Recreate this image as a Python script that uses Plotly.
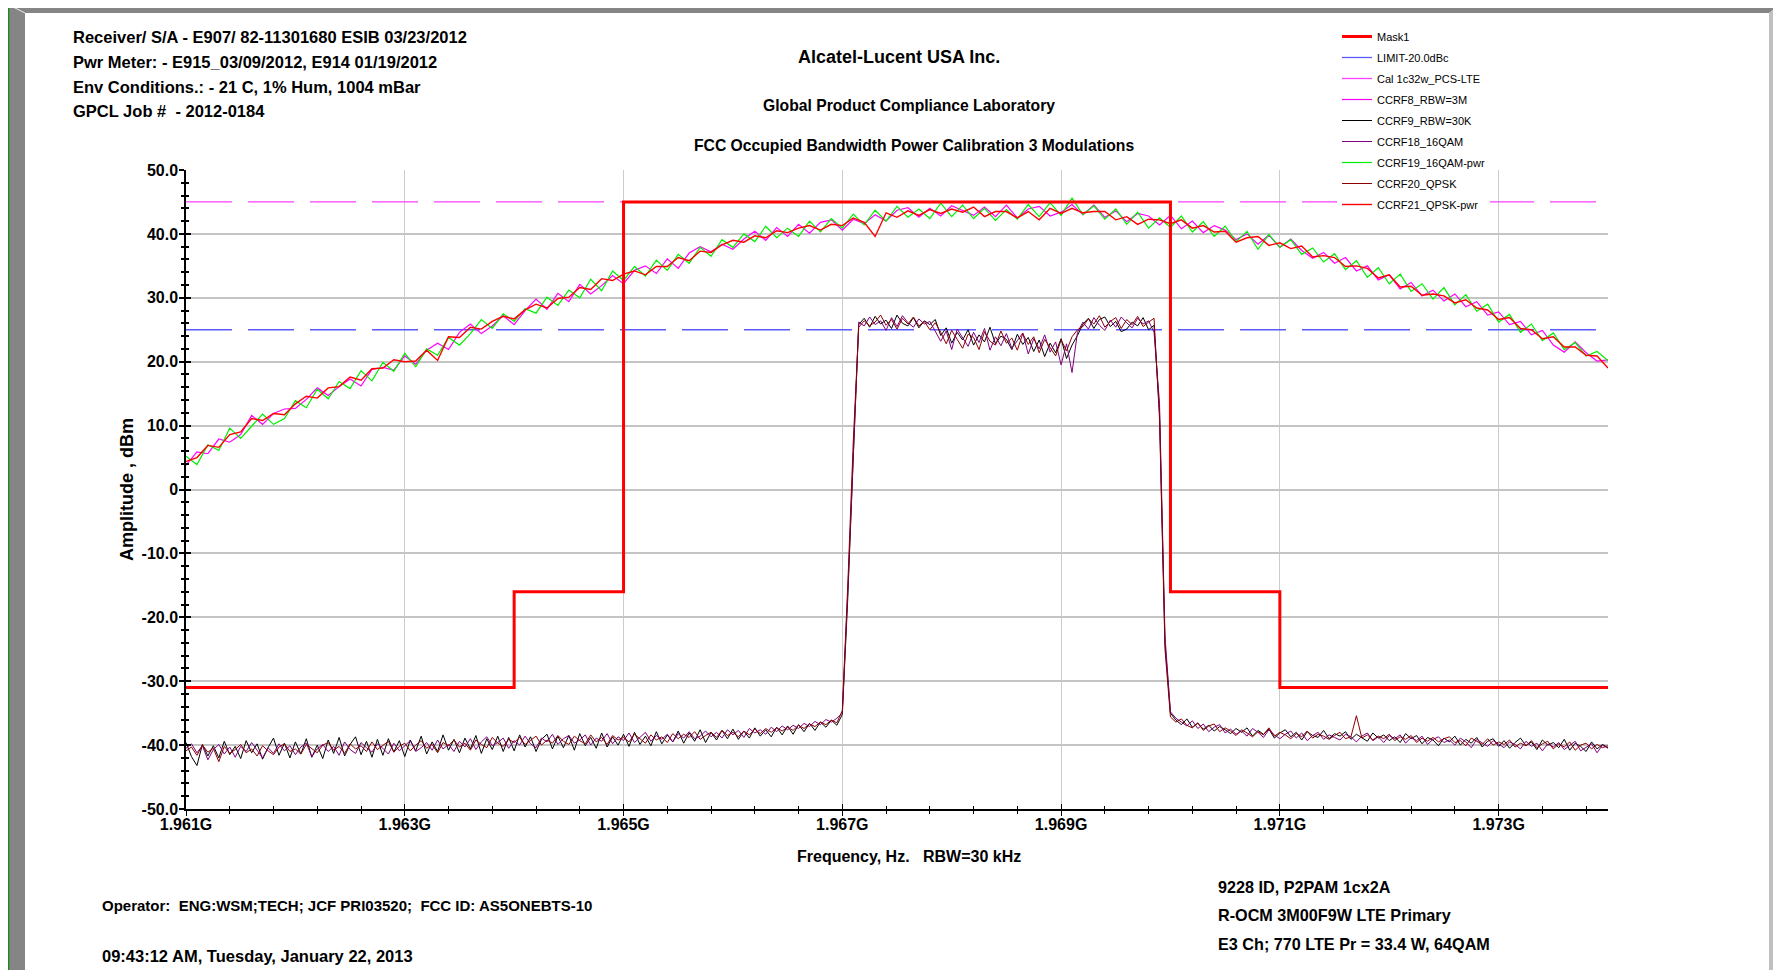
import numpy as np
import plotly.graph_objects as go

# ---------------- data ----------------
START_HZ = 1.961e9
BROAD_STEP_HZ = 0.1e6     # sweep step of the wide-RBW traces
NARROW_STEP_HZ = 0.05e6   # sweep step of the 30 kHz traces

# CCRF8_RBW=3M (magenta)
ccrf8_rbw3m = [
    3.8, 5.9, 5.6, 7.9, 7.4, 8.6, 11.6, 10.2, 11.9, 12.6,
    12.7, 14.1, 15.9, 14.7, 16.1, 17.3, 16.2, 18.8, 19.1, 18.7,
    20.9, 19.6, 21.8, 22.9, 21.9, 24.6, 25.9, 24.4, 25.6, 27.2,
    25.8, 28.0, 29.8, 28.2, 30.7, 29.4, 32.1, 30.6, 31.9, 33.5,
    32.2, 34.3, 35.0, 33.8, 36.1, 34.6, 37.0, 38.0, 37.2, 38.4,
    37.6, 39.2, 40.4, 39.0, 41.0, 39.6, 41.5, 40.1, 41.8, 42.2,
    40.6, 42.3, 41.6, 43.0, 42.0, 43.7, 44.1, 42.6, 44.0, 42.8,
    44.4, 43.7, 42.9, 44.2, 42.7, 44.5, 42.5, 43.9, 44.3, 42.8,
    43.4, 44.6, 43.0, 44.5, 42.6, 43.6, 41.9, 43.2, 42.8, 41.4,
    42.9, 40.8, 42.0, 40.2, 41.3, 40.6, 39.1, 40.0, 38.4, 39.8,
    37.9, 39.2, 37.4, 36.2, 37.1, 35.4, 36.3, 34.2, 35.0, 32.8,
    33.6, 31.4, 32.4, 30.3, 31.2, 29.5, 30.6, 28.6, 29.4, 27.3,
    27.8, 25.8, 26.3, 24.2, 24.9, 22.6, 21.5, 23.1, 21.4, 20.1,
    20.3,
]

# CCRF19_16QAM-pwr (green)
ccrf19_16qam_pwr = [
    5.2, 3.9, 7.0, 6.1, 9.6, 8.0, 9.9, 11.8, 10.2, 11.1,
    13.9, 12.8, 15.7, 14.2, 16.9, 15.8, 18.6, 17.0, 19.9, 18.5,
    21.3, 19.2, 22.0, 21.0, 23.8, 22.6, 24.4, 26.6, 25.2, 27.5,
    26.3, 28.3, 27.6, 30.1, 28.8, 31.2, 30.0, 32.9, 31.1, 34.2,
    32.7, 34.9, 33.4, 35.9, 34.3, 36.8, 35.4, 37.9, 36.5, 39.1,
    37.9, 40.0, 38.8, 41.2, 39.4, 40.9, 39.6, 42.0, 40.3, 42.4,
    40.9, 43.1, 41.4, 43.7, 42.0, 44.3, 42.6, 43.9, 42.4, 44.8,
    42.7, 44.5, 42.4, 44.0, 42.1, 43.8, 42.3, 44.6, 42.7, 44.9,
    42.9, 45.6, 43.0, 44.4, 42.3, 43.9, 41.5, 43.4, 40.9, 42.5,
    41.0, 42.8, 40.3, 41.9, 39.6, 41.2, 38.8, 40.4, 37.6, 39.9,
    37.9, 39.1, 36.8, 37.8, 35.6, 36.9, 34.4, 35.8, 33.2, 34.7,
    32.2, 33.7, 31.0, 32.2, 29.8, 31.6, 28.9, 30.5, 27.9, 29.0,
    26.2, 27.4, 24.6, 25.9, 23.3, 24.5, 21.9, 23.0, 20.9, 21.6,
    20.2,
]

# CCRF21_QPSK-pwr (red)
ccrf21_qpsk_pwr = [
    4.4, 5.0, 6.9, 6.6, 8.6, 9.0, 11.1, 10.8, 11.9, 11.7,
    13.4, 14.6, 14.3, 15.9, 16.1, 17.6, 17.1, 18.9, 19.0, 20.3,
    20.0, 20.1, 21.8, 20.2, 23.9, 23.8, 25.4, 25.1, 26.3, 27.1,
    26.7, 28.1, 29.0, 28.4, 29.9, 30.1, 31.6, 31.3, 33.0, 32.7,
    33.7, 34.2, 33.6, 34.9, 34.9, 36.3, 35.8, 37.3, 37.1, 38.3,
    39.0, 38.7, 39.7, 39.4, 40.5, 40.2, 40.9, 41.3, 40.6, 41.5,
    41.3, 42.5, 41.8, 39.6, 43.3, 42.6, 43.6, 42.9, 43.8, 43.2,
    43.9, 43.4, 44.2, 42.7, 43.5, 43.5, 42.5, 43.5, 42.2, 44.0,
    43.2, 44.0, 43.3, 43.5, 43.5, 42.2, 42.7, 41.5, 42.3, 42.2,
    41.6, 42.2, 40.9, 41.3, 40.3, 40.4, 38.7, 39.4, 39.6, 38.2,
    38.6, 37.7, 38.1, 36.4, 36.6, 36.3, 34.9, 35.0, 34.6, 33.1,
    33.6, 31.7, 31.8, 30.4, 30.6, 30.3, 29.2, 29.7, 28.4, 28.1,
    26.6, 26.9, 25.2, 25.0, 23.6, 23.9, 22.3, 22.3, 21.0, 20.9,
    19.0,
]

# CCRF9_RBW=30K (black)
ccrf9_rbw30k = [
    # 1.96100 - 1.96695 GHz
    -39.6, -41.8, -43.2, -39.9, -41.7, -40.1, -42.0, -39.4, -41.5, -40.2,
    -42.1, -39.3, -41.2, -39.8, -42.2, -40.4, -38.9, -41.6, -39.7, -42.0,
    -39.5, -41.4, -39.0, -41.9, -40.0, -42.1, -39.2, -41.3, -38.8, -41.7,
    -39.9, -38.7, -41.5, -39.4, -41.9, -39.1, -41.6, -39.0, -41.1, -39.3,
    -41.8, -39.2, -40.9, -38.6, -41.4, -39.5, -41.0, -38.4, -40.8, -39.1,
    -41.2, -38.9, -40.6, -38.5, -41.3, -39.0, -40.7, -38.6, -41.0, -38.8,
    -40.9, -38.4, -40.3, -38.7, -41.0, -39.1, -38.3, -40.6, -38.6, -40.4,
    -38.5, -40.8, -38.2, -40.1, -38.8, -40.5, -38.1, -40.3, -38.7, -40.0,
    -38.3, -40.2, -38.0, -39.9, -38.6, -40.1, -37.9, -39.8, -38.4, -39.5,
    -37.8, -39.7, -38.1, -39.4, -37.6, -39.6, -38.0, -39.2, -37.7, -39.0,
    -37.5, -39.1, -37.8, -38.9, -37.3, -38.6, -37.6, -38.7, -37.2, -38.4,
    -37.0, -38.3, -36.8, -37.9, -36.6, -37.7, -36.4, -37.2, -36.1, -36.9,
    # rising edge
    -35.2, -17.0, 5.0, 25.8,
    # in-band
    26.8, 25.4, 27.1, 25.9, 26.5, 25.2, 27.3, 26.0, 25.6, 26.9, 25.3, 26.4, 25.8, 26.6,
    24.1, 25.3, 22.9, 24.6, 23.4, 25.0, 22.6, 24.2, 23.1, 25.4, 22.8, 24.0, 23.5,
    21.9, 24.3, 22.7, 23.8, 21.6, 23.4, 20.8, 22.9, 21.4, 23.6, 20.5, 22.6, 24.1,
    25.9, 26.8, 25.2, 26.6, 27.0, 25.5, 26.3, 24.7, 25.1, 26.2, 25.6, 26.9, 25.0, 25.7,
    # falling edge
    12.0, -24.0, -35.0,
    # 1.97005 - 1.97400 GHz
    -36.1, -36.8, -35.9, -37.2, -36.6, -37.5, -36.9, -37.8, -37.1, -37.6,
    -38.2, -37.4, -38.0, -37.3, -38.6, -37.7, -38.3, -37.5, -38.9, -38.1,
    -37.6, -38.7, -38.0, -39.2, -37.9, -38.5, -38.8, -37.7, -39.0, -38.2,
    -38.6, -37.9, -39.1, -38.3, -38.8, -39.4, -38.1, -38.9, -38.4, -39.3,
    -38.7, -39.6, -38.2, -39.0, -38.5, -39.8, -38.8, -39.2, -40.1, -38.9,
    -39.5, -38.6, -40.0, -39.1, -39.7, -38.8, -40.3, -39.4, -39.0, -40.2,
    -39.3, -40.5, -39.6, -38.9, -40.1, -39.5, -40.7, -39.2, -40.0, -39.6,
    -40.4, -39.1, -40.8, -39.7, -40.2, -41.0, -39.5, -40.6, -39.9, -40.4,
]

# CCRF18_16QAM (purple)
ccrf18_16qam = [
    -40.5, -39.8, -41.2, -40.1, -42.3, -40.7, -39.9, -41.4, -40.3, -41.9,
    -40.2, -41.0, -39.6, -40.8, -42.0, -40.4, -41.3, -39.8, -40.9, -40.1,
    -41.5, -40.3, -39.7, -41.8, -40.6, -39.9, -41.0, -40.2, -41.6, -39.5,
    -40.7, -41.3, -39.6, -40.4, -41.1, -39.8, -40.5, -41.4, -39.7, -40.9,
    -40.1, -39.3, -41.0, -40.4, -39.6, -40.8, -39.2, -40.6, -39.9, -41.0,
    -39.4, -40.3, -39.0, -40.7, -39.5, -38.7, -40.1, -39.6, -38.9, -40.5,
    -39.3, -40.0, -38.6, -39.8, -40.4, -38.9, -39.5, -38.3, -39.9, -39.0,
    -38.5, -39.7, -39.2, -38.4, -40.0, -38.9, -39.4, -38.2, -39.8, -38.7,
    -39.3, -38.1, -39.6, -38.8, -38.0, -39.4, -38.5, -39.1, -38.3, -39.5,
    -38.2, -38.9, -37.9, -39.0, -38.6, -37.8, -38.7, -38.0, -38.9, -37.6,
    -38.4, -37.7, -38.8, -37.4, -38.1, -37.6, -38.3, -37.2, -37.9, -37.0,
    -37.6, -36.9, -37.4, -36.6, -37.1, -36.3, -36.8, -36.0, -36.4, -35.8,
    -35.0, -16.0, 6.0, 26.2,
    25.6, 27.0, 25.8, 26.4, 24.9, 26.9, 25.5, 27.2, 26.1, 25.4, 26.7, 25.9, 26.3, 24.8,
    23.2, 24.8, 21.9, 25.1, 23.7, 22.4, 24.6, 23.0, 25.2, 21.8, 23.9, 22.5, 24.4,
    22.1, 23.3, 24.5, 21.2, 23.6, 22.0, 24.2, 21.5, 23.1, 19.5, 22.8, 18.3, 24.6,
    26.2, 25.1, 26.9, 25.7, 24.9, 26.5, 25.4, 27.0, 26.1, 25.3, 26.8, 25.9, 26.4, 24.6,
    13.5, -23.0, -34.8,
    -35.8, -36.4, -37.0, -36.2, -37.4, -36.7, -37.9, -37.2, -36.8, -38.1,
    -37.5, -38.3, -37.8, -38.6, -37.4, -38.0, -38.8, -37.6, -38.4, -39.0,
    -38.3, -37.8, -38.9, -38.1, -39.3, -38.5, -38.0, -39.1, -38.4, -38.8,
    -39.2, -38.3, -38.7, -39.5, -38.6, -38.1, -39.3, -38.7, -39.6, -38.5,
    -39.0, -38.4, -39.7, -38.8, -39.3, -38.6, -39.9, -39.1, -38.7, -39.6,
    -39.2, -40.0, -38.9, -39.5, -40.4, -39.1, -39.7, -40.2, -39.3, -39.8,
    -40.4, -39.5, -39.9, -40.6, -39.4, -40.2, -39.7, -40.9, -39.8, -40.3,
    -39.6, -40.7, -40.1, -39.4, -40.9, -40.3, -39.8, -41.2, -40.0, -40.5,
]

# CCRF20_QPSK (dark red)
ccrf20_qpsk = [
    -40.9, -40.3, -41.6, -40.0, -41.1, -40.5, -42.6, -40.2, -41.3, -40.7,
    -39.9, -41.2, -40.6, -41.7, -40.1, -40.9, -41.5, -40.3, -39.8, -41.0,
    -40.6, -41.4, -39.9, -40.5, -41.2, -40.0, -39.6, -40.8, -40.2, -41.3,
    -39.8, -40.6, -40.1, -41.0, -39.5, -40.7, -40.0, -39.4, -41.1, -40.2,
    -39.7, -40.9, -40.0, -39.3, -40.5, -39.9, -41.2, -39.6, -40.1, -39.2,
    -40.3, -39.7, -40.8, -39.2, -39.9, -40.4, -38.8, -39.7, -40.2, -39.1,
    -39.6, -38.8, -39.9, -39.3, -38.6, -40.0, -39.2, -39.7, -38.5, -39.4,
    -39.9, -38.6, -39.3, -39.8, -38.4, -39.5, -38.8, -39.9, -38.5, -39.2,
    -38.8, -39.5, -38.3, -39.0, -39.7, -38.4, -39.2, -38.7, -39.6, -38.2,
    -39.0, -38.3, -38.8, -37.9, -39.1, -38.5, -38.0, -38.8, -37.7, -38.5,
    -38.0, -38.7, -37.8, -38.4, -37.5, -38.2, -37.4, -38.0, -37.3, -37.8,
    -37.2, -37.7, -36.9, -37.4, -36.7, -37.1, -36.4, -36.8, -36.1, -36.5,
    -34.6, -15.0, 7.5, 25.4,
    26.4, 25.6, 26.2, 27.3, 25.7, 26.6, 25.1, 26.8, 25.9, 27.0, 25.6, 26.3, 25.0, 26.1,
    24.6, 22.8, 24.9, 23.5, 22.1, 24.3, 23.8, 21.9, 24.7, 23.2, 22.6, 24.8, 22.9,
    23.7, 21.8, 24.4, 22.7, 23.9, 21.4, 23.5, 22.2, 20.9, 23.4, 21.7, 23.9, 25.0,
    25.5, 26.7, 25.9, 27.2, 25.4, 26.3, 26.9, 25.2, 26.6, 25.8, 27.1, 25.5, 26.2, 26.8,
    11.0, -25.0, -35.6,
    -36.4, -35.9, -36.9, -37.3, -36.5, -37.7, -37.0, -36.7, -37.9, -37.3,
    -37.8, -38.5, -37.6, -38.1, -38.7, -37.9, -38.4, -37.3, -38.6, -38.0,
    -38.4, -39.0, -38.2, -38.7, -37.8, -38.9, -38.3, -38.6, -39.1, -38.5,
    -38.0, -39.0, -38.7, -35.4, -38.9, -38.4, -39.2, -38.6, -39.0, -38.3,
    -39.3, -38.7, -39.1, -38.5, -39.6, -38.9, -39.4, -38.8, -39.5, -39.0,
    -38.7, -39.6, -39.3, -40.1, -38.9, -39.4, -39.9, -39.0, -40.0, -39.5,
    -39.9, -39.2, -40.3, -39.7, -40.1, -39.3, -40.4, -39.8, -39.4, -40.6,
    -39.8, -40.3, -39.5, -40.8, -40.0, -39.7, -40.6, -39.9, -40.4, -40.1,
]

# Mask1 (step levels)
mask_freq_hz = [1.961e9, 1.964e9, 1.965e9, 1.970e9, 1.971e9, 1.974e9]
mask_level_dbm = [-31.0, -16.0, 45.0, -16.0, -31.0, -31.0]
limit_level_dbm = 25.0      # LIMIT-20.0dBc
cal_level_dbm = 45.0        # Cal 1c32w_PCS-LTE

x_range_hz = [1.961e9, 1.974e9]
x_tick_vals = [1.961e9, 1.963e9, 1.965e9, 1.967e9, 1.969e9, 1.971e9, 1.973e9]
x_tick_labels = ["1.961G", "1.963G", "1.965G", "1.967G", "1.969G", "1.971G", "1.973G"]
y_tick_vals = [-50, -40, -30, -20, -10, 0, 10, 20, 30, 40, 50]
y_tick_labels = ["-50.0", "-40.0", "-30.0", "-20.0", "-10.0", "0",
                 "10.0", "20.0", "30.0", "40.0", "50.0"]

broad_freq = START_HZ + BROAD_STEP_HZ * np.arange(len(ccrf8_rbw3m))
narrow_freq = START_HZ + NARROW_STEP_HZ * np.arange(len(ccrf9_rbw30k))

# ---------------- styling ----------------
W, H = 1765, 962           # page adds an 8px body margin -> 1781x978 window
PL, PR, PT, PB = 186, 1608, 170, 809   # plot area in reference pixels


def px(x):  # reference pixel -> paper x
    return (x - PL) / (PR - PL)


def py(y):  # reference pixel -> paper y
    return (PB - y) / (PB - PT)


BOLD = "Liberation Sans"
NARROW = "Liberation Sans Narrow, Liberation Sans, Arial Narrow, sans-serif"

fig = go.Figure()


def add_line(x, y, name, color, width, rank, dash=None, shape="linear"):
    fig.add_trace(go.Scatter(
        x=x, y=y, mode="lines", name=name, legendrank=rank, legendgroup=name,
        line=dict(color=color, width=width, dash=dash, shape=shape),
        hoverinfo="skip"))


add_line(x_range_hz, [limit_level_dbm] * 2, "LIMIT-20.0dBc", "#5a5aff", 1.3, 2, dash="46px,16px")
add_line(x_range_hz, [cal_level_dbm] * 2, "Cal 1c32w_PCS-LTE", "#ff40ff", 1.3, 3, dash="46px,16px")
add_line(narrow_freq, ccrf9_rbw30k, "CCRF9_RBW=30K", "#000000", 1.0, 5)
add_line(narrow_freq, ccrf18_16qam, "CCRF18_16QAM", "#800080", 1.0, 6)
add_line(narrow_freq, ccrf20_qpsk, "CCRF20_QPSK", "#8b0000", 1.0, 8)
add_line(broad_freq, ccrf8_rbw3m, "CCRF8_RBW=3M", "#ff00ff", 1.2, 4)
add_line(broad_freq, ccrf19_16qam_pwr, "CCRF19_16QAM-pwr", "#00ee00", 1.2, 7)
add_line(broad_freq, ccrf21_qpsk_pwr, "CCRF21_QPSK-pwr", "#ff0000", 1.4, 9)
add_line(mask_freq_hz, mask_level_dbm, "Mask1", "#ff0000", 3, 1, shape="hv")

# invisible carrier for the overlaid tick axes (gives "cross" ticks)
fig.add_trace(go.Scatter(x=[None], y=[None], xaxis="x2", yaxis="y2",
                         showlegend=False, hoverinfo="skip"))

tickfont = dict(family=BOLD, size=16, color="black", weight="bold")

fig.update_layout(
    width=W, height=H,
    margin=dict(l=PL - 8, r=W - (PR - 8), t=PT - 8, b=H - (PB - 8)),
    paper_bgcolor="white", plot_bgcolor="white",
    showlegend=True,
    legend=dict(x=px(1337), y=py(22), xanchor="left", yanchor="top",
                bgcolor="white", borderwidth=0, tracegroupgap=2,
                font=dict(family=NARROW, size=11, color="black"),
                itemwidth=30),
    xaxis=dict(range=x_range_hz, tickmode="array", tickvals=x_tick_vals,
               ticktext=x_tick_labels, tickfont=tickfont, ticklabelstandoff=-5,
               showgrid=True, gridcolor="#cccccc", gridwidth=1,
               showline=True, linecolor="black", linewidth=1.5,
               ticks="outside", ticklen=5, tickcolor="black", tickwidth=1,
               minor=dict(tickmode="linear", tick0=1.961e9, dtick=0.4e6,
                          ticks="outside", ticklen=3, tickcolor="black",
                          showgrid=False),
               zeroline=False, fixedrange=True),
    yaxis=dict(range=[-50, 50], tickmode="array", tickvals=y_tick_vals,
               ticktext=y_tick_labels, tickfont=tickfont, ticklabelstandoff=-2,
               showgrid=True, gridcolor="#c4c4c4", gridwidth=2,
               showline=True, linecolor="black", linewidth=1.5,
               ticks="outside", ticklen=5, tickcolor="black", tickwidth=1.5,
               minor=dict(tickmode="linear", tick0=0, dtick=2,
                          ticks="outside", ticklen=3, tickcolor="black",
                          showgrid=False),
               zeroline=False, fixedrange=True),
    xaxis2=dict(range=x_range_hz, overlaying="x", anchor="y", side="bottom",
                tickmode="array", tickvals=x_tick_vals, showticklabels=False,
                ticks="inside", ticklen=5, tickcolor="black", tickwidth=1,
                minor=dict(tickmode="linear", tick0=1.961e9, dtick=0.4e6,
                           ticks="inside", ticklen=3, tickcolor="black",
                           showgrid=False),
                showgrid=False, showline=False, zeroline=False, fixedrange=True),
    yaxis2=dict(range=[-50, 50], overlaying="y", anchor="x", side="left",
                tickmode="array", tickvals=y_tick_vals, showticklabels=False,
                ticks="inside", ticklen=5, tickcolor="black", tickwidth=1.5,
                minor=dict(tickmode="linear", tick0=0, dtick=2,
                           ticks="inside", ticklen=3, tickcolor="black",
                           showgrid=False),
                showgrid=False, showline=False, zeroline=False, fixedrange=True),
)

# ---------------- frame (bevelled border) ----------------
def poly(points, color):
    path = "M " + " L ".join(f"{px(x)},{py(y)}" for x, y in points) + " Z"
    fig.add_shape(type="path", path=path, xref="paper", yref="paper",
                  fillcolor=color, line=dict(width=0), layer="below")


poly([(8, 4), (1781, 4), (1769, 13), (25, 13)], "#858585")
poly([(8, 4), (25, 13), (25, 990), (8, 990)], "#858585")
poly([(1769, 13), (1781, 4), (1781, 990), (1769, 990)], "#c0c0c0")
fig.add_shape(type="line", xref="paper", yref="paper",
              x0=px(8.5), y0=py(4), x1=px(8.5), y1=py(990),
              line=dict(color="#1a8a1a", width=1.5))
fig.add_shape(type="line", xref="paper", yref="paper",
              x0=px(8), y0=py(4.5), x1=px(1781), y1=py(4.5),
              line=dict(color="#1a8a1a", width=1.5))
fig.add_shape(type="line", xref="paper", yref="paper",
              x0=px(9), y0=py(5), x1=px(25), y1=py(13),
              line=dict(color="#e8e8e8", width=1))

# ---------------- texts ----------------
def text(s, x, y, size, anchor="left", family=BOLD, angle=0):
    fig.add_annotation(text=s, x=px(x), y=py(y), xref="paper", yref="paper",
                       xanchor=anchor, yanchor="middle", showarrow=False,
                       textangle=angle,
                       font=dict(family=family, size=size, color="black",
                                 weight="bold"))


text("Receiver/ S/A - E907/ 82-11301680 ESIB 03/23/2012", 71, 37, 16.5)
text("Pwr Meter: - E915_03/09/2012, E914 01/19/2012", 71, 62, 16.5)
text("Env Conditions.: - 21 C, 1% Hum, 1004 mBar", 71, 87, 16.5)
text("GPCL Job #  - 2012-0184", 71, 111, 16.5)

text("Alcatel-Lucent USA Inc.", 899, 57, 18, anchor="center")
text("Global Product Compliance Laboratory", 909, 105, 15.7, anchor="center")
text("FCC Occupied Bandwidth Power Calibration 3 Modulations", 914, 145, 15.7, anchor="center")

text("Amplitude , dBm", 127, 490, 18, anchor="center", angle=-90)
text("Frequency, Hz.   RBW=30 kHz", 909, 856, 16, anchor="center")

text("Operator:  ENG:WSM;TECH; JCF PRI03520;  FCC ID: AS5ONEBTS-10", 100, 905, 15)
text("09:43:12 AM, Tuesday, January 22, 2013", 100, 956, 16.5)

text("9228 ID, P2PAM 1cx2A", 1216, 887, 16.2)
text("R-OCM 3M00F9W LTE Primary", 1216, 915, 16.2)
text("E3 Ch; 770 LTE Pr = 33.4 W, 64QAM", 1216, 944, 16.2)

fig.write_html("out.html")
